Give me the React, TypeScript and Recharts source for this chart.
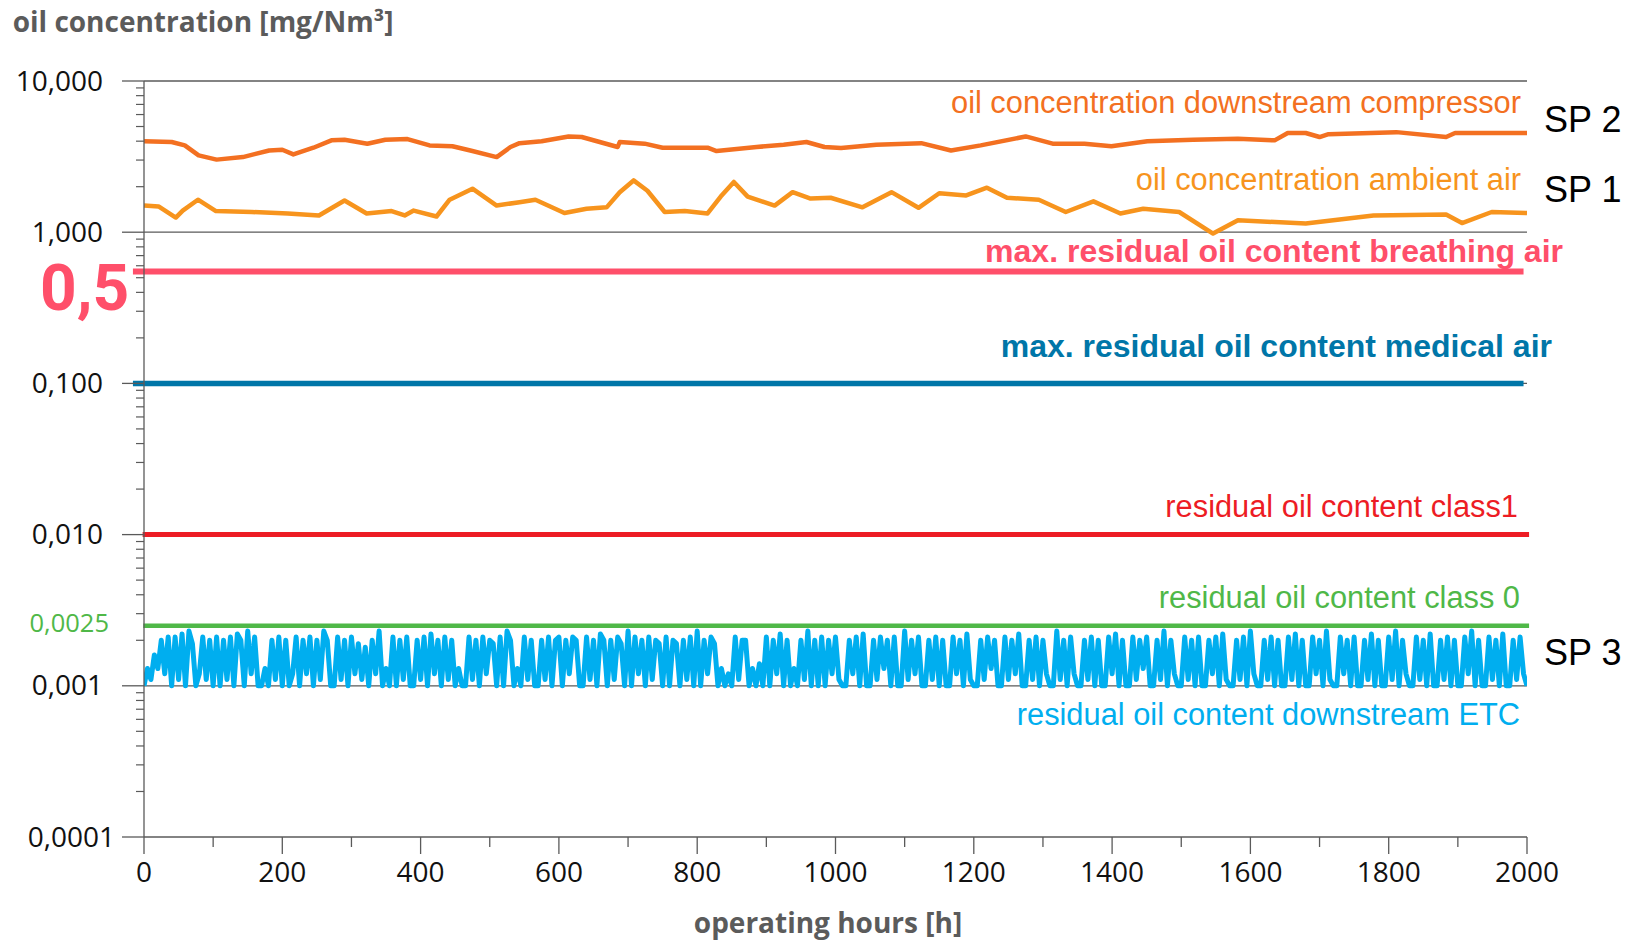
import { LineChart, Line, XAxis, YAxis, ReferenceLine } from 'recharts'

const W = 1643
const H = 943
const PLOT = { left: 144, right: 1527, top: 81, bottom: 837 }
const Y_AXIS_W = 60
const X_AXIS_H = 60
const AXIS = '#5a5a5a'
const TICK_FONT = "'Open Sans', sans-serif"
const NOTE_FONT = "'Liberation Sans', Arial, sans-serif"

// SP 2 - oil concentration downstream compressor
const sp2Hours = [0, 40, 59, 79, 105, 143, 181, 200, 216, 245, 271, 290, 323, 349, 381, 413, 446, 472, 510, 530, 543, 575, 614, 633, 659, 685, 688, 724, 750, 815, 828, 886, 925, 958, 984, 1008, 1059, 1124, 1167, 1210, 1275, 1314, 1360, 1399, 1451, 1517, 1582, 1635, 1654, 1680, 1700, 1713, 1811, 1883, 1896, 2000]
const sp2Values = [3.99, 3.95, 3.75, 3.22, 3.02, 3.14, 3.47, 3.51, 3.27, 3.62, 4.05, 4.09, 3.85, 4.09, 4.13, 3.75, 3.7, 3.47, 3.14, 3.66, 3.88, 4.0, 4.3, 4.26, 3.95, 3.66, 3.95, 3.85, 3.62, 3.62, 3.44, 3.66, 3.79, 3.95, 3.66, 3.6, 3.79, 3.88, 3.47, 3.75, 4.3, 3.85, 3.85, 3.7, 4.0, 4.09, 4.15, 4.05, 4.53, 4.53, 4.26, 4.45, 4.59, 4.26, 4.53, 4.53]

// SP 1 - oil concentration ambient air
const sp1Hours = [0, 21, 46, 56, 78, 104, 156, 208, 253, 290, 322, 358, 377, 390, 423, 442, 475, 510, 543, 566, 608, 640, 669, 688, 708, 728, 753, 782, 815, 834, 853, 873, 912, 938, 964, 993, 1039, 1081, 1120, 1150, 1189, 1219, 1248, 1294, 1333, 1373, 1412, 1445, 1497, 1546, 1582, 1680, 1778, 1883, 1906, 1949, 2000]
const sp1Values = [1.5, 1.48, 1.25, 1.39, 1.64, 1.38, 1.36, 1.33, 1.29, 1.62, 1.33, 1.38, 1.29, 1.39, 1.27, 1.64, 1.94, 1.5, 1.58, 1.64, 1.34, 1.43, 1.46, 1.84, 2.2, 1.88, 1.36, 1.38, 1.33, 1.72, 2.15, 1.72, 1.5, 1.84, 1.67, 1.69, 1.46, 1.84, 1.45, 1.81, 1.75, 1.97, 1.69, 1.64, 1.36, 1.6, 1.33, 1.43, 1.36, 0.98, 1.2, 1.14, 1.29, 1.31, 1.15, 1.36, 1.34]

// SP 3 - residual oil content downstream ETC in µg/Nm³, one reading every 5 h
const ETC_STEP = 5
const etcMicrograms = [
  1.0, 1.3, 1.1, 1.6, 1.3, 2.0, 1.2, 2.1, 1.0, 2.1, 1.1, 2.2, 1.0, 2.3, 1.9, 1.0, 1.2, 2.1, 1.1, 2.0,
  1.0, 2.1, 1.0, 2.0, 1.1, 2.1, 1.0, 2.2, 2.0, 1.0, 2.3, 1.2, 2.1, 1.0, 1.0, 1.3, 1.0, 2.0, 1.1, 2.1,
  1.0, 2.0, 1.0, 1.2, 2.1, 1.0, 2.0, 1.2, 2.1, 1.0, 2.0, 1.1, 2.3, 2.0, 1.0, 1.0, 2.1, 1.1, 2.0, 1.0,
  2.1, 1.2, 1.9, 1.1, 1.8, 1.0, 2.0, 1.2, 2.3, 1.0, 1.3, 1.0, 2.1, 1.0, 2.0, 1.1, 2.1, 1.0, 1.0, 2.0,
  1.1, 2.1, 1.0, 2.2, 1.2, 2.0, 1.0, 2.1, 1.1, 2.0, 1.0, 1.3, 1.0, 1.0, 2.1, 1.1, 2.0, 1.0, 2.1, 1.2,
  2.0, 1.9, 1.0, 2.1, 1.0, 2.3, 2.0, 1.0, 1.3, 1.0, 2.1, 1.1, 2.0, 1.0, 1.0, 2.0, 1.1, 2.1, 1.0, 2.0,
  2.1, 1.0, 2.0, 1.2, 2.1, 2.0, 1.0, 1.0, 2.1, 1.1, 2.0, 1.0, 2.2, 2.0, 1.0, 2.0, 1.1, 2.1, 1.9, 1.0,
  2.3, 1.0, 2.1, 1.2, 2.0, 1.0, 2.1, 1.1, 2.0, 1.9, 1.0, 2.1, 1.0, 2.0, 1.9, 1.0, 2.0, 1.1, 2.1, 1.0,
  2.3, 1.0, 2.0, 1.2, 2.1, 1.9, 1.0, 1.3, 1.0, 1.2, 1.0, 2.1, 1.1, 2.0, 2.0, 1.0, 1.3, 1.0, 1.4, 1.0,
  2.1, 1.0, 2.0, 1.2, 2.2, 1.0, 2.0, 1.0, 1.3, 1.0, 2.0, 1.1, 2.3, 1.0, 2.0, 1.0, 2.1, 1.0, 2.0, 1.2,
  2.1, 1.1, 1.0, 1.0, 2.0, 1.2, 2.1, 1.0, 2.2, 1.0, 1.0, 2.0, 1.1, 2.1, 1.3, 2.0, 1.0, 2.1, 1.0, 1.0,
  2.3, 1.1, 2.0, 1.2, 2.1, 1.0, 1.0, 2.0, 1.1, 2.1, 1.0, 2.0, 1.0, 1.0, 2.1, 1.2, 2.0, 1.0, 2.2, 1.1,
  1.0, 1.0, 2.0, 1.1, 2.1, 1.3, 2.0, 1.0, 1.0, 2.1, 1.1, 2.0, 1.2, 2.2, 1.0, 1.0, 2.0, 1.1, 2.1, 1.0,
  2.0, 1.2, 1.0, 1.0, 2.3, 1.1, 2.0, 1.0, 2.1, 1.2, 1.0, 1.0, 2.0, 1.1, 2.1, 1.0, 2.0, 1.0, 1.0, 2.1,
  1.2, 2.2, 1.0, 2.0, 1.0, 1.0, 2.1, 1.1, 2.0, 1.3, 2.1, 1.0, 1.0, 2.0, 1.1, 2.3, 1.0, 2.0, 1.2, 1.0,
  1.0, 2.1, 1.1, 2.0, 1.0, 2.1, 1.0, 1.0, 2.0, 1.2, 2.1, 1.0, 2.2, 1.1, 1.0, 1.0, 2.0, 1.1, 2.1, 1.0,
  2.3, 1.2, 1.0, 1.0, 2.0, 1.1, 2.1, 1.0, 2.0, 1.0, 1.0, 2.1, 1.1, 2.2, 1.0, 2.0, 1.0, 1.0, 2.1, 1.2,
  2.0, 1.0, 2.3, 1.1, 1.0, 1.0, 2.1, 1.2, 2.0, 1.0, 2.1, 1.0, 1.0, 2.0, 1.1, 2.2, 1.0, 2.0, 1.0, 1.0,
  2.1, 1.1, 2.3, 1.0, 2.0, 1.2, 1.0, 1.0, 2.1, 1.1, 2.0, 1.0, 2.2, 1.0, 1.0, 2.0, 1.1, 2.1, 1.0, 2.0,
  1.0, 1.0, 2.1, 1.2, 2.3, 1.0, 2.0, 1.0, 1.0, 2.1, 1.1, 2.0, 1.0, 2.2, 1.0, 1.0, 2.0, 1.1, 2.1, 1.2,
  1.0,
]

// limit values [mg/Nm³]
const limitValues = [0.55, 0.1, 0.01, 0.0025]
const limitStyle = [
  { color: '#ff4f6a', width: 6, from: -16, to: 1995 },
  { color: '#0076a8', width: 5.5, from: -16, to: 1995 },
  { color: '#ed1c24', width: 5, from: -2, to: 2003 },
  { color: '#4fb848', width: 4.5, from: -1, to: 2003 },
]

const yDecades = [10, 1, 0.1, 0.01, 0.001, 0.0001]
const yDecadeLabels = ['10,000', '1,000', '0,100', '0,010', '0,001', '0,0001']
const yLabelRight = [103, 103, 103, 103, 103, 115]
const yMinorSteps = [2, 3, 4, 5, 6, 7, 8, 9]
const xTicks = [0, 100, 200, 300, 400, 500, 600, 700, 800, 900, 1000, 1100, 1200, 1300, 1400, 1500, 1600, 1700, 1800, 1900, 2000]
const xLabelTicks = [0, 200, 400, 600, 800, 1000, 1200, 1400, 1600, 1800, 2000]

const yTicks = [
  ...yDecades,
  ...yDecades.slice(1).flatMap((d) => yMinorSteps.map((k) => d * k)),
]

const sp2Data = sp2Hours.map((h, i) => ({ h, v: sp2Values[i] }))
const sp1Data = sp1Hours.map((h, i) => ({ h, v: sp1Values[i] }))
const etcData = etcMicrograms.map((ug, i) => ({ h: i * ETC_STEP, v: ug / 1000 }))

const YTick = (props: any) => {
  const { y, payload } = props
  const i = yDecades.indexOf(payload.value)
  if (i < 0) {
    return <line x1={PLOT.left - 8} x2={PLOT.left} y1={y} y2={y} stroke={AXIS} strokeWidth={1.2} />
  }
  return (
    <g>
      <line x1={PLOT.left - 22} x2={PLOT.left} y1={y} y2={y} stroke={AXIS} strokeWidth={1.3} />
      <text x={yLabelRight[i]} y={y + 9.5} textAnchor="end" fontFamily={TICK_FONT} fontSize={28} fill="#111">
        {yDecadeLabels[i]}
      </text>
    </g>
  )
}

const XTick = (props: any) => {
  const { x, payload } = props
  const labelled = xLabelTicks.includes(payload.value)
  return (
    <g>
      <line x1={x} x2={x} y1={PLOT.bottom} y2={PLOT.bottom + (labelled ? 17 : 10)} stroke={AXIS} strokeWidth={1.3} />
      {labelled && (
        <text x={x} y={882} textAnchor="middle" fontFamily={TICK_FONT} fontSize={28} fill="#111">
          {payload.value}
        </text>
      )}
    </g>
  )
}

export default function App() {
  return (
    <div style={{ position: 'absolute', left: 0, top: 0, width: W, height: H, background: '#fff' }}>
      <LineChart
        width={W}
        height={H}
        margin={{
          top: PLOT.top,
          right: W - PLOT.right,
          bottom: H - PLOT.bottom - X_AXIS_H,
          left: PLOT.left - Y_AXIS_W,
        }}
      >
        <XAxis
          dataKey="h"
          type="number"
          domain={[0, 2000]}
          ticks={xTicks}
          interval={0}
          height={X_AXIS_H}
          tickLine={false}
          axisLine={false}
          allowDataOverflow
          tick={(p: any) => <XTick {...p} />}
        />
        <YAxis
          type="number"
          scale="log"
          domain={[0.0001, 10]}
          ticks={yTicks}
          interval={0}
          width={Y_AXIS_W}
          tickLine={false}
          axisLine={{ stroke: AXIS, strokeWidth: 1.3 }}
          allowDataOverflow
          tick={(p: any) => <YTick {...p} />}
        />
        {yDecades.map((d) => (
          <ReferenceLine key={d} y={d} ifOverflow="visible" stroke={AXIS} strokeWidth={1.3} />
        ))}
        {limitValues.map((v, i) => (
          <ReferenceLine
            key={`lim${i}`}
            segment={[
              { x: limitStyle[i].from, y: v },
              { x: limitStyle[i].to, y: v },
            ]}
            ifOverflow="visible"
            stroke={limitStyle[i].color}
            strokeWidth={limitStyle[i].width}
          />
        ))}
        <Line
          data={etcData}
          dataKey="v"
          type="linear"
          stroke="#00aeef"
          strokeWidth={5}
          strokeLinejoin="round"
          dot={false}
          isAnimationActive={false}
        />
        <Line data={sp1Data} dataKey="v" type="linear" stroke="#f7941d" strokeWidth={4.5} strokeLinejoin="round" dot={false} isAnimationActive={false} />
        <Line data={sp2Data} dataKey="v" type="linear" stroke="#f37021" strokeWidth={4.5} strokeLinejoin="round" dot={false} isAnimationActive={false} />
      </LineChart>

      <svg width={W} height={H} style={{ position: 'absolute', left: 0, top: 0, pointerEvents: 'none' }}>
        <text x={12.7} y={32.3} fontFamily={TICK_FONT} fontWeight={700} fontSize={28} fill="#5b5b5b">
          oil concentration [mg/Nm³]
        </text>
        <text x={828} y={933} textAnchor="middle" fontFamily={TICK_FONT} fontWeight={700} fontSize={28} fill="#5b5b5b">
          operating hours [h]
        </text>
        <text x={40} y={310} fontFamily="Roboto, sans-serif" fontWeight={700} fontSize={64} fill="#ff4f6a">
          0,5
        </text>
        <text x={109} y={631.5} textAnchor="end" fontFamily={TICK_FONT} fontSize={25.5} fill="#4fb848">
          0,0025
        </text>

        <g fontFamily={NOTE_FONT} textAnchor="end">
          <text x={1521} y={113.3} fontSize={30.8} fill="#f37021">oil concentration downstream compressor</text>
          <text x={1521} y={189.5} fontSize={30.8} fill="#f7941d">oil concentration ambient air</text>
          <text x={1563} y={261.7} fontSize={32} fontWeight={700} fill="#ff4f6a">max. residual oil content breathing air</text>
          <text x={1552} y={356.7} fontSize={32} fontWeight={700} fill="#0076a8">max. residual oil content medical air</text>
          <text x={1518} y={517.3} fontSize={30.8} fill="#ed1c24">residual oil content class1</text>
          <text x={1520} y={608.3} fontSize={30.8} fill="#4fb848">residual oil content class 0</text>
          <text x={1520} y={725} fontSize={30.8} fill="#00aeef">residual oil content downstream ETC</text>
        </g>
        <g fontFamily={NOTE_FONT} fontSize={36} fill="#000">
          <text x={1544} y={131.7}>SP 2</text>
          <text x={1544} y={201.7}>SP 1</text>
          <text x={1544} y={665}>SP 3</text>
        </g>
      </svg>
    </div>
  )
}
